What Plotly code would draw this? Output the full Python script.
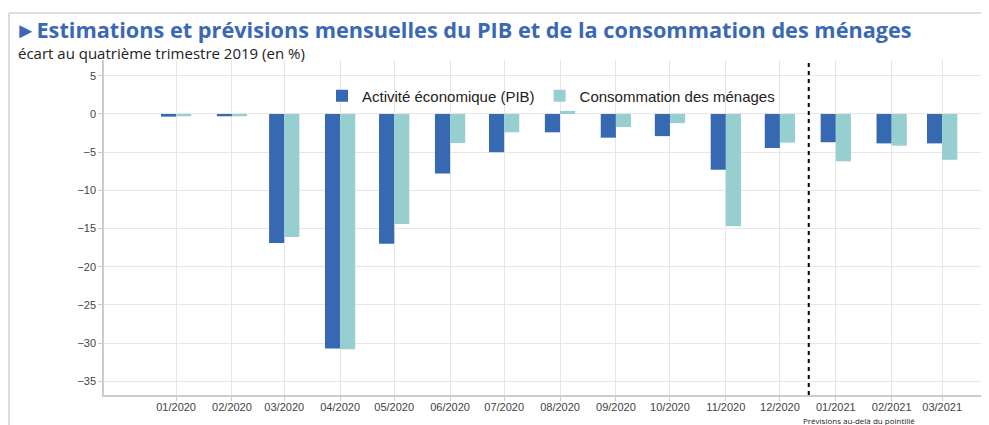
import plotly.graph_objects as go

months = ["2020-01-01", "2020-02-01", "2020-03-01", "2020-04-01", "2020-05-01", "2020-06-01",
          "2020-07-01", "2020-08-01", "2020-09-01", "2020-10-01", "2020-11-01", "2020-12-01",
          "2021-01-01", "2021-02-01", "2021-03-01"]
pib = [-0.35, -0.3, -16.9, -30.7, -17.0, -7.8, -5.0, -2.4, -3.1, -2.9, -7.3, -4.45, -3.7, -3.85, -3.85]
conso = [-0.3, -0.3, -16.1, -30.8, -14.4, -3.8, -2.4, 0.4, -1.7, -1.2, -14.7, -3.75, -6.2, -4.15, -6.0]
y_ticks = [5, 0, -5, -10, -15, -20, -25, -30, -35]
forecast_start = "2020-12-17"

BLUE = "#3669b1"
TEAL = "#97cfd0"
TICKFONT = dict(family="Liberation Sans, Arial, sans-serif", size=11, color="#444")

# page body has an 8px margin: layout is expressed in screen pixels and shifted
OFF = 8
L, T, W, H = 104 - OFF, 60 - OFF, 885, 335
FIG_W, FIG_H = 989, 425


def px(xs):
    return (xs - OFF - L) / W


def py(ys):
    return (T + H - (ys - OFF)) / H


fig = go.Figure()
fig.add_trace(go.Bar(x=months, y=pib, name="Activité économique (PIB)",
                     marker=dict(color=BLUE, line=dict(width=0))))
fig.add_trace(go.Bar(x=months, y=conso, name="Consommation des ménages",
                     marker=dict(color=TEAL, line=dict(width=0))))

fig.update_layout(
    width=FIG_W, height=FIG_H,
    margin=dict(l=L, r=FIG_W - L - W, t=T, b=FIG_H - T - H, autoexpand=False),
    paper_bgcolor="white", plot_bgcolor="white",
    barmode="group", bargap=0.4, bargroupgap=0,
    showlegend=True,
    legend=dict(orientation="h", x=px(322), xanchor="left", y=py(96), yanchor="middle",
                font=dict(family="Liberation Sans, Arial, sans-serif", size=15, color="#222"),
                bgcolor="rgba(0,0,0,0)"),
    xaxis=dict(type="date", range=["2019-11-22", "2021-03-27"],
               tickvals=months, tickformat="%m/%Y",
               showgrid=True, gridcolor="#e6e6e6", gridwidth=1,
               showline=True, linecolor="#cccccc", linewidth=1.5,
               ticks="outside", ticklen=4, tickcolor="#cccccc",
               ticklabelstandoff=-3,
               tickfont=TICKFONT, fixedrange=True),
    yaxis=dict(range=[-36.8, 7.07], tickvals=y_ticks,
               showgrid=True, gridcolor="#e6e6e6", gridwidth=1, zeroline=False,
               showline=True, linecolor="#cccccc", linewidth=1.5,
               ticks="outside", ticklen=4, tickcolor="#cccccc",
               tickfont=TICKFONT),
)

# Forecast separator
fig.add_shape(type="line", x0=forecast_start, x1=forecast_start, xref="x",
              y0=0, y1=1, yref="paper",
              line=dict(color="black", width=2, dash="4px,4px"))

# Card frame
fig.add_shape(type="line", xref="paper", yref="paper", x0=px(9), x1=px(1000), y0=py(13), y1=py(13),
              line=dict(color="#dddddd", width=2))
fig.add_shape(type="line", xref="paper", yref="paper", x0=px(9), x1=px(9), y0=py(13), y1=py(440),
              line=dict(color="#dddddd", width=2))

fig.add_annotation(text="►Estimations et prévisions mensuelles du PIB et de la consommation des ménages",
                   xref="paper", yref="paper", x=px(13), y=py(30),
                   xanchor="left", yanchor="middle", showarrow=False,
                   font=dict(family="Open Sans, sans-serif", size=21.7, color="#3a68b4", weight="bold"))
fig.add_annotation(text="écart au quatrième trimestre 2019 (en %)",
                   xref="paper", yref="paper", x=px(16), y=py(53),
                   xanchor="left", yanchor="middle", showarrow=False,
                   font=dict(family="Open Sans, sans-serif", size=15, color="#222"))
fig.add_annotation(text="Prévisions au-delà du pointillé",
                   xref="paper", yref="paper", x=px(801), y=py(420),
                   xanchor="left", yanchor="middle", showarrow=False,
                   font=dict(family="Open Sans, sans-serif", size=8, color="#222"))

fig.write_html("out.html")
